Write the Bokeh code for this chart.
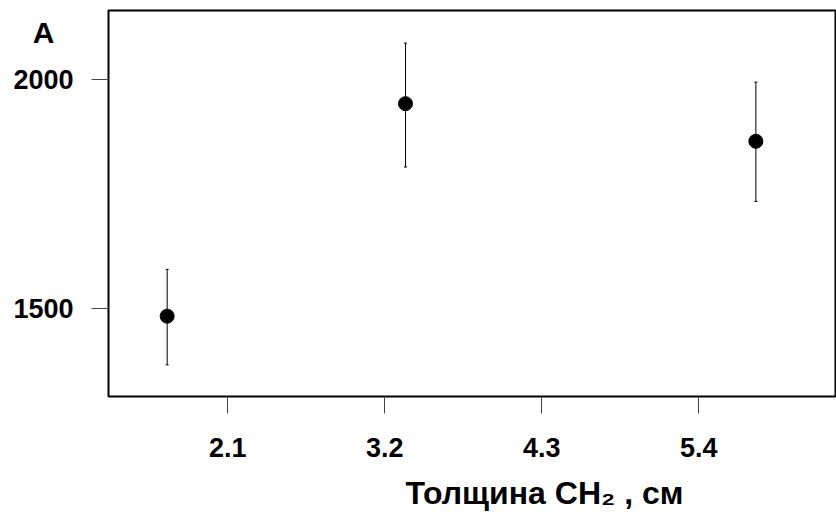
from bokeh.plotting import figure
from bokeh.models import Range1d, FixedTicker, Whisker, ColumnDataSource, TeeHead, Title, LinearAxis
from bokeh.embed import file_html
from bokeh.resources import INLINE

# data
thickness = [1.675, 3.345, 5.80]
values = [1484, 1947, 1865]
upper = [1586, 2079, 1994]
lower = [1378, 1809, 1734]
x_ticks = [2.1, 3.2, 4.3, 5.4]
y_ticks = [1500, 2000]
panel_letter = "A"
x_title = "Толщина CH\u2082 , см"

FONT = "Liberation Sans"

p = figure(width=836, height=524, output_backend="svg", toolbar_location=None,
           x_range=Range1d(1.264, 6.358), y_range=Range1d(1309, 2150))
p.min_border_left = 108
p.min_border_right = 1
p.min_border_top = 10
p.min_border_bottom = 128
p.grid.visible = False
p.background_fill_color = "white"
p.border_fill_color = "white"
p.outline_line_color = "black"
p.outline_line_width = 2
p.outline_line_alpha = 1.0

for ax in (p.xaxis[0], p.yaxis[0]):
    ax.axis_line_color = None
    ax.major_tick_in = 0
    ax.major_tick_out = 17
    ax.major_tick_line_color = "#444444"
    ax.major_tick_line_width = 1
    ax.minor_tick_line_color = None
    ax.major_label_text_font = FONT
    ax.major_label_text_font_style = "bold"
    ax.major_label_text_font_size = "27px"
    ax.major_label_text_color = "black"

p.xaxis[0].ticker = FixedTicker(ticks=x_ticks)
p.yaxis[0].ticker = FixedTicker(ticks=y_ticks)
p.xaxis[0].major_label_standoff = 24
p.yaxis[0].major_label_standoff = 18
p.xaxis[0].major_label_overrides = {t: str(t) for t in x_ticks}

# panel letter as the single label of an extra, tick-less left axis
p.extra_y_ranges = {"letter": Range1d(0, 1)}
LETTER_POS = 0.943
letter_axis = LinearAxis(y_range_name="letter", ticker=FixedTicker(ticks=[LETTER_POS]),
                         major_label_overrides={LETTER_POS: panel_letter},
                         axis_line_color=None, major_tick_line_color=None,
                         minor_tick_line_color=None, major_tick_out=0, major_tick_in=0,
                         major_label_standoff=-44,
                         major_label_text_font=FONT, major_label_text_font_style="bold",
                         major_label_text_font_size="30px", major_label_text_color="black")
p.add_layout(letter_axis, "left")

t = Title(text=x_title, align="left", offset=297, standoff=26,
          text_font=FONT, text_font_style="bold", text_font_size="32px", text_color="black")
p.add_layout(t, "below")

src = ColumnDataSource(dict(x=thickness, y=values, upper=upper, lower=lower))
w = Whisker(source=src, base="x", upper="upper", lower="lower", dimension="height",
            line_color="black", line_width=1,
            upper_head=TeeHead(size=3, line_color="black", line_width=1),
            lower_head=TeeHead(size=3, line_color="black", line_width=1))
p.add_layout(w)
p.scatter("x", "y", source=src, size=14, marker="circle", fill_color="black", line_color="black")

open("out.html", "w").write(file_html(p, INLINE))
